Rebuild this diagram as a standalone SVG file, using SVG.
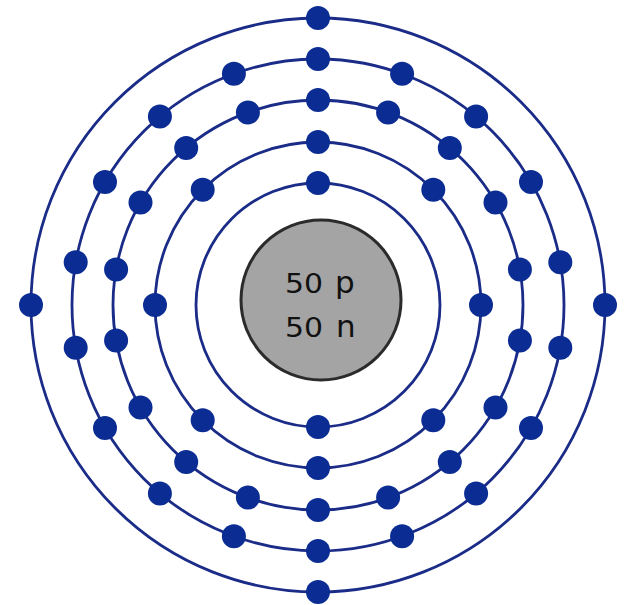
<svg xmlns="http://www.w3.org/2000/svg" xmlns:xlink="http://www.w3.org/1999/xlink" width="630" height="605" viewBox="0 0 630 605">
  <style>
    .orbit { fill: none; stroke: #1a2c88; stroke-width: 2.8; }
    .e { fill: #0b2c92; }
    .nuc { fill: #a4a4a4; stroke: #2b2b2b; stroke-width: 3; }
    .num { font-family: "DejaVu Sans", "Liberation Sans", sans-serif; font-size: 27px; fill: #111; }
    .sym { font-family: "DejaVu Sans", "Liberation Sans", sans-serif; font-size: 31px; fill: #111; }
  </style>
  <defs>
    <circle id="el" class="e" r="12"/>
  </defs>
  <rect width="630" height="605" fill="#ffffff"/>

  <!-- electron shells (orbits) -->
  <g id="orbits">
    <circle class="orbit" cx="318" cy="305" r="122"/>
    <circle class="orbit" cx="318" cy="305" r="163"/>
    <circle class="orbit" cx="318" cy="305" r="205"/>
    <circle class="orbit" cx="318" cy="305" r="246"/>
    <circle class="orbit" cx="318" cy="305" r="287"/>
  </g>

  <!-- nucleus -->
  <g id="nucleus">
    <circle class="nuc" cx="321" cy="300" r="80"/>
    <text class="num" x="285" y="293" textLength="38" lengthAdjust="spacingAndGlyphs">50</text>
    <text class="sym" x="335" y="293">p</text>
    <text class="num" x="285" y="337" textLength="38" lengthAdjust="spacingAndGlyphs">50</text>
    <text class="sym" x="336" y="337">n</text>
  </g>

  <!-- shell 1: 2 electrons -->
  <g id="shell1">
    <use xlink:href="#el" x="318" y="183"/>
    <use xlink:href="#el" x="318" y="427"/>
  </g>

  <!-- shell 2: 8 electrons -->
  <g id="shell2">
    <use xlink:href="#el" x="318" y="142"/>
    <use xlink:href="#el" x="433.3" y="189.7"/>
    <use xlink:href="#el" x="481" y="305"/>
    <use xlink:href="#el" x="433.3" y="420.3"/>
    <use xlink:href="#el" x="318" y="468"/>
    <use xlink:href="#el" x="202.7" y="420.3"/>
    <use xlink:href="#el" x="155" y="305"/>
    <use xlink:href="#el" x="202.7" y="189.7"/>
  </g>

  <!-- shell 3: 18 electrons -->
  <g id="shell3">
    <use xlink:href="#el" x="318" y="100"/>
    <use xlink:href="#el" x="388.1" y="112.4"/>
    <use xlink:href="#el" x="449.8" y="148"/>
    <use xlink:href="#el" x="495.5" y="202.5"/>
    <use xlink:href="#el" x="519.9" y="269.4"/>
    <use xlink:href="#el" x="519.9" y="340.6"/>
    <use xlink:href="#el" x="495.5" y="407.5"/>
    <use xlink:href="#el" x="449.8" y="462"/>
    <use xlink:href="#el" x="388.1" y="497.6"/>
    <use xlink:href="#el" x="318" y="510"/>
    <use xlink:href="#el" x="247.9" y="497.6"/>
    <use xlink:href="#el" x="186.2" y="462"/>
    <use xlink:href="#el" x="140.5" y="407.5"/>
    <use xlink:href="#el" x="116.1" y="340.6"/>
    <use xlink:href="#el" x="116.1" y="269.4"/>
    <use xlink:href="#el" x="140.5" y="202.5"/>
    <use xlink:href="#el" x="186.2" y="148"/>
    <use xlink:href="#el" x="247.9" y="112.4"/>
  </g>

  <!-- shell 4: 18 electrons -->
  <g id="shell4">
    <use xlink:href="#el" x="318" y="59"/>
    <use xlink:href="#el" x="402.1" y="73.8"/>
    <use xlink:href="#el" x="476.1" y="116.6"/>
    <use xlink:href="#el" x="531" y="182"/>
    <use xlink:href="#el" x="560.3" y="262.3"/>
    <use xlink:href="#el" x="560.3" y="347.7"/>
    <use xlink:href="#el" x="531" y="428"/>
    <use xlink:href="#el" x="476.1" y="493.4"/>
    <use xlink:href="#el" x="402.1" y="536.2"/>
    <use xlink:href="#el" x="318" y="551"/>
    <use xlink:href="#el" x="233.9" y="536.2"/>
    <use xlink:href="#el" x="159.9" y="493.4"/>
    <use xlink:href="#el" x="105" y="428"/>
    <use xlink:href="#el" x="75.7" y="347.7"/>
    <use xlink:href="#el" x="75.7" y="262.3"/>
    <use xlink:href="#el" x="105" y="182"/>
    <use xlink:href="#el" x="159.9" y="116.6"/>
    <use xlink:href="#el" x="233.9" y="73.8"/>
  </g>

  <!-- shell 5: 4 electrons -->
  <g id="shell5">
    <use xlink:href="#el" x="318" y="18"/>
    <use xlink:href="#el" x="605" y="305"/>
    <use xlink:href="#el" x="318" y="592"/>
    <use xlink:href="#el" x="31" y="305"/>
  </g>
</svg>
